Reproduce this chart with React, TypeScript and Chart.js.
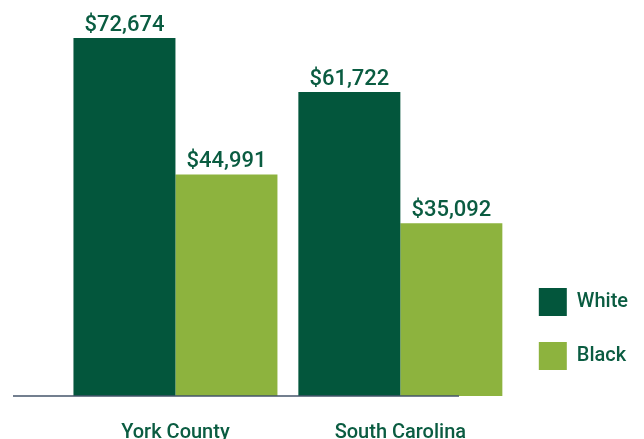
import React, { useEffect, useRef } from "react";
import { Chart, registerables } from "chart.js";

Chart.register(...registerables);

const categories = ["York County", "South Carolina"];
const seriesNames = ["White", "Black"];
const whiteValues = [72674, 61722];
const blackValues = [44991, 35092];
const yMax = 80000;

const DARK = "#03563C";
const LIGHT = "#8DB33E";
const TEXT = "#0A5C41";
const FONT = "Roboto";

const valueLabels = {
  id: "valueLabels",
  afterDatasetsDraw(chart: any) {
    const ctx = chart.ctx;
    ctx.save();
    ctx.font = `500 22px ${FONT}`;
    ctx.fillStyle = TEXT;
    ctx.textAlign = "center";
    ctx.textBaseline = "alphabetic";
    chart.data.datasets.forEach((ds: any, i: number) => {
      const meta = chart.getDatasetMeta(i);
      meta.data.forEach((bar: any, j: number) => {
        const v = ds.data[j];
        ctx.fillText("$" + v.toLocaleString("en-US"), bar.x, bar.y - 7);
      });
    });
    ctx.restore();
  },
};

const baseLine = {
  id: "baseLine",
  afterDatasetsDraw(chart: any) {
    const ctx = chart.ctx;
    const y = chart.chartArea.bottom;
    ctx.save();
    ctx.strokeStyle = "#44546A";
    ctx.lineWidth = 1.5;
    ctx.beginPath();
    ctx.moveTo(13, y);
    ctx.lineTo(459, y);
    ctx.stroke();
    ctx.restore();
  },
};

export default function App() {
  const ref = useRef<HTMLCanvasElement>(null);
  useEffect(() => {
    if (!ref.current) return;
    const chart = new Chart(ref.current, {
      type: "bar",
      data: {
        labels: categories,
        datasets: [
          { label: seriesNames[0], data: whiteValues, backgroundColor: DARK },
          { label: seriesNames[1], data: blackValues, backgroundColor: LIGHT },
        ],
      },
      options: {
        animation: false,
        responsive: true,
        maintainAspectRatio: false,
        layout: { padding: { left: 63, right: 6, top: 2, bottom: 0 } },
        datasets: { bar: { barPercentage: 1, categoryPercentage: 0.907 } },
        scales: {
          x: {
            grid: { display: false, drawTicks: false },
            border: { display: false },
            afterFit(scale: any) {
              scale.height = 43;
            },
            ticks: {
              padding: 25,
              maxRotation: 0,
              color: TEXT,
              font: { family: FONT, size: 20, weight: "500" },
            },
          },
          y: { display: false, min: 0, max: yMax },
        },
        plugins: {
          tooltip: { enabled: false },
          legend: {
            position: "right",
            align: "end",
            fullSize: false,
            labels: {
              boxWidth: 28,
              boxHeight: 28,
              padding: 26,
              color: TEXT,
              font: { family: FONT, size: 20, weight: "500" },
            },
          },
        },
      },
      plugins: [valueLabels, baseLine],
    });
    return () => chart.destroy();
  }, []);
  return (
    <div style={{ position: "fixed", left: 0, top: 0, width: 644, height: 439 }}>
      <canvas ref={ref} />
    </div>
  );
}
